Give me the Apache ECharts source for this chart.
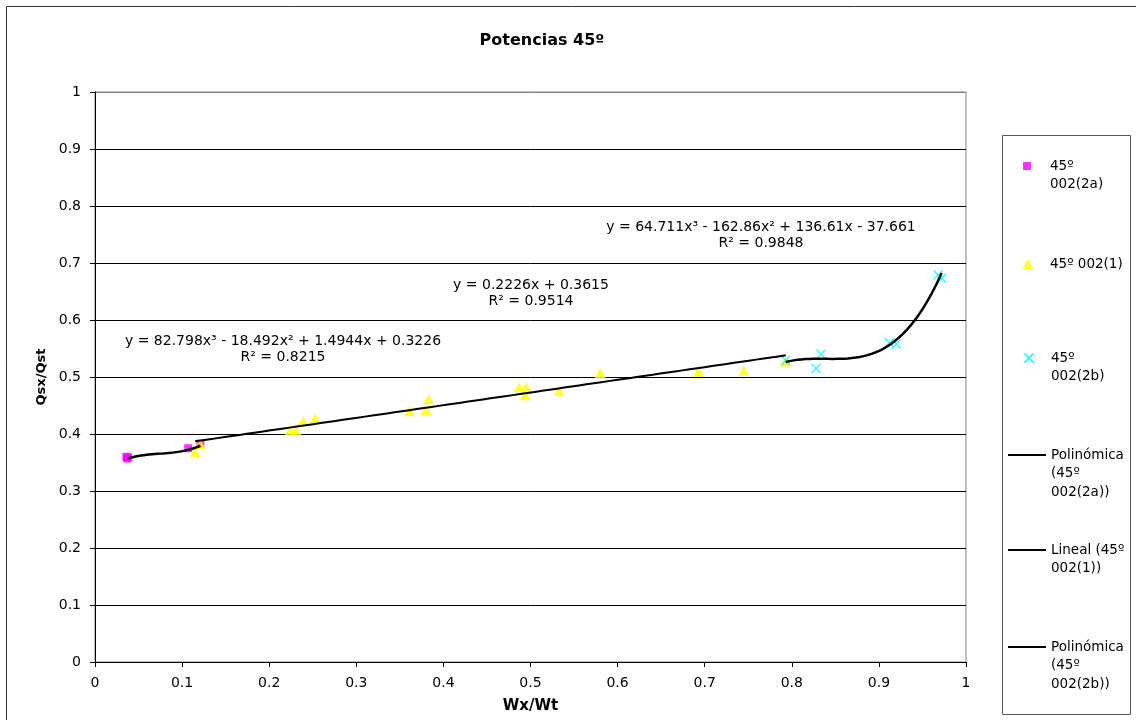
<!DOCTYPE html>
<html>
<head>
<meta charset="utf-8">
<title>Potencias 45º</title>
<script src="https://cdn.jsdelivr.net/npm/echarts@6/dist/echarts.min.js"></script>
<style>
  html, body { margin: 0; padding: 0; background: #fff; }
  #chart { width: 1136px; height: 720px; }
</style>
</head>
<body>
<div id="chart"></div>
<script>
// Measured points (Wx/Wt, Qsx/Qst)
const pts2a = [[0.036, 0.360], [0.037, 0.357], [0.038, 0.359], [0.107, 0.375], [0.121, 0.383]];
const pts1 = [[0.115, 0.368], [0.121, 0.382], [0.224, 0.406], [0.231, 0.406], [0.239, 0.423],
              [0.253, 0.427], [0.361, 0.440], [0.380, 0.442], [0.383, 0.461], [0.487, 0.482],
              [0.495, 0.482], [0.494, 0.468], [0.533, 0.476], [0.580, 0.507], [0.693, 0.509],
              [0.745, 0.511], [0.793, 0.527]];
const pts2b = [[0.793, 0.529], [0.8335, 0.540], [0.828, 0.515], [0.912, 0.560], [0.920, 0.558],
               [0.968, 0.679], [0.972, 0.673]];

// Trendline coefficients, highest power first, and their fitted ranges
const coef2a = [82.798, -18.492, 1.4944, 0.3226];
const coef1 = [0.2226, 0.3615];
const coef2b = [64.711, -162.86, 136.61, -37.661];
const range2a = [0.037, 0.121];
const range1 = [0.115, 0.793];
const range2b = [0.793, 0.972];

// Trendline equation texts
const eq2a = ['y = 82.798x³ - 18.492x² + 1.4944x + 0.3226', 'R² = 0.8215'];
const eq1 = ['y = 0.2226x + 0.3615', 'R² = 0.9514'];
const eq2b = ['y = 64.711x³ - 162.86x² + 136.61x - 37.661', 'R² = 0.9848'];

const yTicksMax = 1;
const names = {
  s2a: '45º 002(2a)', s1: '45º 002(1)', s2b: '45º 002(2b)',
  t2a: 'Polinómica (45º 002(2a))', t1: 'Lineal (45º 002(1))', t2b: 'Polinómica (45º 002(2b))'
};

function polyval(c, x) {
  return c.reduce((acc, k) => acc * x + k, 0);
}
function trend(c, r) {
  const out = [];
  const n = 80;
  for (let i = 0; i <= n; i++) {
    const x = r[0] + (r[1] - r[0]) * i / n;
    out.push([x, polyval(c, x)]);
  }
  return out;
}

const FONT = '"DejaVu Sans", Verdana, sans-serif';
const FS = 14;
const LEG_FS = 13.5;
const LH = 18.5;

// one legend block per entry, text wrapped like the boxed legend on the right
function legendEntry(name, lines, iconX, iconY, w, h, icon, textPad) {
  const n = lines.length;
  const text = '\n'.repeat(n - 1) + lines.join('\n');
  const total = (2 * n - 1) * LH;
  return {
    data: [icon ? { name: name, icon: icon } : { name: name }],
    orient: 'vertical',
    left: iconX,
    top: iconY - total / 2,
    padding: 0,
    itemWidth: w,
    itemHeight: h,
    selectedMode: false,
    formatter: () => text,
    textStyle: { fontFamily: FONT, fontSize: LEG_FS, color: '#000', lineHeight: LH, padding: [0, 0, 0, textPad] }
  };
}

const chart = echarts.init(document.getElementById('chart'), null, { renderer: 'canvas' });

const splitColors = [];
for (let i = 0; i < 10; i++) splitColors.push('#000');
splitColors.push('#808080');

const option = {
  animation: false,
  backgroundColor: '#fff',
  textStyle: { fontFamily: FONT },
  title: {
    text: 'Potencias 45º',
    left: 542,
    textAlign: 'center',
    top: 33,
    padding: 0,
    textStyle: { fontFamily: FONT, fontSize: 16, fontWeight: 'bold', color: '#000' }
  },
  grid: { left: 95, right: 170, top: 92, bottom: 58, show: true, borderColor: '#808080', borderWidth: 1, backgroundColor: 'transparent' },
  xAxis: {
    type: 'value', min: 0, max: 1, interval: 0.1,
    name: 'Wx/Wt', nameLocation: 'middle', nameGap: 37, nameMoveOverlap: false,
    nameTextStyle: { fontFamily: FONT, fontWeight: 'bold', fontSize: 15, color: '#000' },
    axisLine: { show: true, lineStyle: { color: '#000', width: 1 } },
    axisTick: { show: true, length: 5, lineStyle: { color: '#000' } },
    axisLabel: { color: '#000', fontSize: FS, fontFamily: FONT, margin: 14 },
    splitLine: { show: false }
  },
  yAxis: {
    type: 'value', min: 0, max: yTicksMax, interval: 0.1,
    name: 'Qsx/Qst', nameLocation: 'middle', nameGap: 47, nameRotate: 90, nameMoveOverlap: false,
    nameTextStyle: { fontFamily: FONT, fontWeight: 'bold', fontSize: 13, color: '#000' },
    axisLine: { show: true, lineStyle: { color: '#000', width: 1 } },
    axisTick: { show: true, length: 5, lineStyle: { color: '#000' } },
    axisLabel: { color: '#000', fontSize: FS, fontFamily: FONT, margin: 14 },
    splitLine: { show: true, lineStyle: { color: splitColors, width: 1 } }
  },
  legend: [
    legendEntry(names.s2a, ['45º', '002(2a)'], 1023, 166, 8, 8, null, 14),
    legendEntry(names.s1, ['45º 002(1)'], 1022.5, 264, 11, 10, null, 11.5),
    legendEntry(names.s2b, ['45º', '002(2b)'], 1023.5, 358, 9, 9, null, 12.5),
    legendEntry(names.t2a, ['Polinómica', '(45º', '002(2a))'], 1008, 455, 38, 2, 'rect', 0),
    legendEntry(names.t1, ['Lineal (45º', '002(1))'], 1008, 550, 38, 2, 'rect', 0),
    legendEntry(names.t2b, ['Polinómica', '(45º', '002(2b))'], 1008, 647, 38, 2, 'rect', 0)
  ],
  graphic: [
    { type: 'rect', shape: { x: 6.5, y: 6.5, width: 1140, height: 730 }, style: { fill: 'none', stroke: '#333', lineWidth: 1 }, silent: true, z: -10 },
    { type: 'rect', shape: { x: 1002.5, y: 135.5, width: 128, height: 579 }, style: { fill: 'none', stroke: '#555', lineWidth: 1 }, silent: true },
    { type: 'text', x: 283, y: 349, style: { text: eq2a.join('\n'), font: FS + 'px ' + FONT, fill: '#000', align: 'center', verticalAlign: 'middle', lineHeight: 16 }, silent: true },
    { type: 'text', x: 531, y: 293, style: { text: eq1.join('\n'), font: FS + 'px ' + FONT, fill: '#000', align: 'center', verticalAlign: 'middle', lineHeight: 16 }, silent: true },
    { type: 'text', x: 761, y: 235, style: { text: eq2b.join('\n'), font: FS + 'px ' + FONT, fill: '#000', align: 'center', verticalAlign: 'middle', lineHeight: 16 }, silent: true }
  ],
  series: [
    { name: names.s2a, type: 'scatter', data: pts2a, symbol: 'rect', symbolSize: 8, itemStyle: { color: '#FF00FF' }, z: 3 },
    { name: names.s1, type: 'scatter', data: pts1, symbol: 'triangle', symbolSize: [11, 10], itemStyle: { color: '#FFFF00' }, z: 3 },
    { name: names.s2b, type: 'scatter', data: pts2b, symbol: 'path://M0,0L10,10M10,0L0,10', symbolSize: 9,
      itemStyle: { color: 'transparent', borderColor: '#00FFFF', borderWidth: 1.5 }, z: 3 },
    { name: names.t2a, type: 'line', data: trend(coef2a, range2a), showSymbol: false, symbol: 'none', color: '#000',
      lineStyle: { color: '#000', width: 2.5 }, z: 5 },
    { name: names.t1, type: 'line', data: trend(coef1, range1), showSymbol: false, symbol: 'none', color: '#000',
      lineStyle: { color: '#000', width: 2 }, z: 5 },
    { name: names.t2b, type: 'line', data: trend(coef2b, range2b), showSymbol: false, symbol: 'none', color: '#000',
      lineStyle: { color: '#000', width: 2.5 }, z: 5 }
  ]
};

chart.setOption(option);
</script>
</body>
</html>
